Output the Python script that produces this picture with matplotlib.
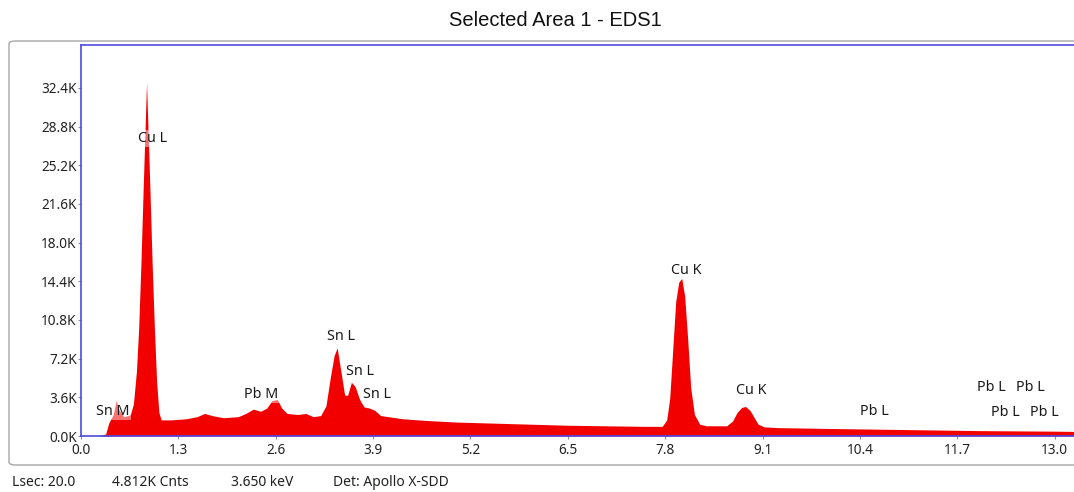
"""
EDS spectrum: Selected Area 1 - EDS1
Output: out.png (1074x492)
"""

import matplotlib
matplotlib.use("Agg")
import matplotlib.pyplot as plt
import matplotlib.ticker as ticker
from matplotlib.patches import FancyBboxPatch

plt.rcParams["font.family"] = ["Noto Sans", "DejaVu Sans"]

# ── Data ─────────────────────────────────────────────────────────────────────
energy_kev = [0.25, 0.33, 0.37, 0.43, 0.47, 0.51, 0.57, 0.63, 0.66, 0.70,
              0.74, 0.77, 0.80, 0.83, 0.855, 0.875, 0.895, 0.92, 0.95, 0.98,
              1.01, 1.04, 1.07, 1.20, 1.40, 1.55, 1.65, 1.75, 1.90, 2.10,
              2.20, 2.30, 2.40, 2.48, 2.55, 2.62, 2.68, 2.75, 2.90, 3.00,
              3.10, 3.20, 3.27, 3.33, 3.38, 3.42, 3.47, 3.52, 3.56, 3.61,
              3.66, 3.72, 3.78, 3.85, 3.92, 4.00, 4.15, 4.30, 4.60, 5.00,
              5.50, 6.00, 6.50, 7.00, 7.50, 7.76, 7.82, 7.86, 7.90, 7.94,
              7.98, 8.02, 8.06, 8.10, 8.14, 8.19, 8.26, 8.35, 8.62, 8.70,
              8.76, 8.82, 8.87, 8.93, 8.98, 9.04, 9.12, 9.30, 10.0, 10.5,
              11.0, 12.0, 13.0, 13.5]
counts_k = [0.0, 0.2, 1.2, 2.0, 3.3, 2.4, 1.8, 1.9, 2.0, 3.0,
            6.0, 10.0, 16.0, 23.0, 28.5, 32.9, 28.5, 23.0, 16.0, 10.0,
            5.0, 2.2, 1.5, 1.5, 1.6, 1.8, 2.1, 1.9, 1.7, 1.8,
            2.1, 2.5, 2.3, 2.6, 3.3, 3.4, 2.6, 2.1, 2.0, 2.1,
            1.8, 1.9, 2.8, 5.5, 7.5, 8.2, 6.0, 3.8, 3.8, 5.0,
            4.6, 3.4, 2.7, 2.6, 2.4, 1.9, 1.75, 1.6, 1.45, 1.3,
            1.2, 1.1, 1.0, 0.95, 0.9, 0.9, 1.5, 3.5, 8.0, 12.5,
            14.3, 14.7, 13.0, 9.0, 4.5, 2.0, 1.1, 0.95, 0.95, 1.4,
            2.2, 2.65, 2.75, 2.4, 1.8, 1.1, 0.85, 0.78, 0.7, 0.65,
            0.6, 0.5, 0.45, 0.4]

label_names = ["Cu L", "Sn M", "Pb M", "Sn L", "Sn L", "Sn L", "Cu K", "Cu K",
               "Pb L", "Pb L", "Pb L", "Pb L", "Pb L"]
label_x = [0.96, 0.43, 2.40, 3.47, 3.72, 3.95, 8.08, 8.95,
           10.59, 12.16, 12.68, 12.34, 12.86]
label_y = [27.7, 2.3, 3.9, 9.3, 6.05, 3.9, 15.4, 4.2,
           2.3, 4.55, 4.55, 2.15, 2.15]

x_ticks = [0.0, 1.3, 2.6, 3.9, 5.2, 6.5, 7.8, 9.1, 10.4, 11.7, 13.0]
y_ticks = [0.0, 3.6, 7.2, 10.8, 14.4, 18.0, 21.6, 25.2, 28.8, 32.4]

status_texts = ["Lsec: 20.0", "4.812K Cnts", "3.650 keV", "Det: Apollo X-SDD"]

# ── Figure ───────────────────────────────────────────────────────────────────
W, H = 1074, 492
fig = plt.figure(figsize=(W / 100, H / 100), dpi=100)

# outer grey frame
frame = FancyBboxPatch((9 / W, 1 - 465 / H), (1100 - 9) / W, (465 - 41) / H,
                       boxstyle="round,pad=0,rounding_size=0.006",
                       transform=fig.transFigure, facecolor="none",
                       edgecolor="#a6a6a6", linewidth=1.0, zorder=-1)
fig.patches.append(frame)

ax_l, ax_r, ax_t, ax_b = 81, 1090, 45, 436
ax = fig.add_axes([ax_l / W, 1 - ax_b / H, (ax_r - ax_l) / W, (ax_b - ax_t) / H])
ax.set_facecolor("none")

ax.fill_between(energy_kev, counts_k, 0, color="#f20000", linewidth=0, zorder=2)

for name, x, y in zip(label_names, label_x, label_y):
    ax.text(x, y, name, ha="center", va="center", fontsize=10.3, color="#1a1a1a",
            zorder=3,
            bbox=dict(boxstyle="square,pad=0.1", facecolor="white",
                      edgecolor="none", alpha=0.45))

ax.set_xlim(0, (ax_r - ax_l) / 74.9)
ax.set_ylim(0, (ax_b - ax_t) * 93.1 / 1000)
ax.set_xticks(x_ticks)
ax.set_yticks(y_ticks)
ax.xaxis.set_major_formatter(ticker.FuncFormatter(lambda v, _: f"{v:.1f}"))
ax.yaxis.set_major_formatter(ticker.FuncFormatter(lambda v, _: f"{v:.1f}K"))
ax.tick_params(axis="both", labelsize=9.8, length=2, width=0.8,
               color="#909090", labelcolor="#222222")
ax.tick_params(axis="y", pad=1)
ax.tick_params(axis="x", pad=3)

for side in ("left", "top", "bottom", "right"):
    ax.spines[side].set_color("#4b4be0")
    ax.spines[side].set_linewidth(1.2)

fig.text(555 / W, 1 - 20 / H, "Selected Area 1 - EDS1", ha="center", va="center",
         fontsize=14.5, family=["Liberation Sans", "DejaVu Sans"], color="#111111")

for txt, xp in zip(status_texts, [12, 112, 231, 333]):
    fig.text(xp / W, 1 - 482 / H, txt, ha="left", va="center", fontsize=10,
             color="#222222")

fig.savefig("out.png", dpi=100)
